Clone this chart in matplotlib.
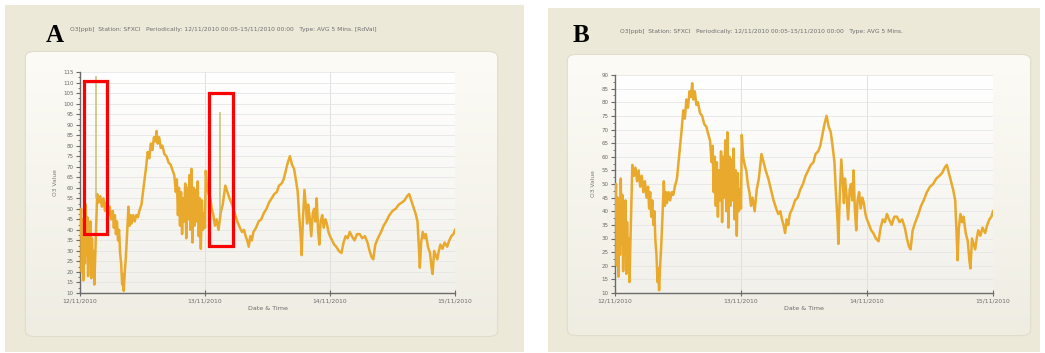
#!/usr/bin/env python3
import numpy as np
import matplotlib.pyplot as plt
import matplotlib as mpl
from matplotlib.patches import Rectangle, FancyBboxPatch
from matplotlib.ticker import MultipleLocator

W = 1045
H = 353

# O3 values, hours after 12/11/2010 00:00
hours = [0.0, 0.2, 0.35, 0.5, 0.65, 0.8, 0.95, 1.1, 1.25, 1.4, 1.55, 1.7, 1.85, 2.0,
         2.15, 2.3, 2.45, 2.6, 2.75, 3.3, 3.6, 3.9, 4.2, 4.5, 4.8, 5.1, 5.4, 5.7, 6.0,
         6.3, 6.5, 6.7, 6.9, 7.1, 7.3, 7.5, 7.7, 7.9, 8.1, 8.25, 8.4, 8.6, 8.8, 9.0,
         9.3, 9.5, 9.7, 9.9, 10.2, 10.5, 10.8, 11.1, 11.4, 11.8, 12.1, 12.4, 12.7,
         13.0, 13.3, 13.6, 13.9, 14.2, 14.5, 14.7, 14.9, 15.2, 15.5, 15.8, 16.2, 16.6,
         17.0, 17.4, 17.8, 18.1, 18.4, 18.6, 18.8, 19.0, 19.2, 19.4, 19.6, 19.8, 20.0,
         20.2, 20.4, 20.6, 20.8, 21.0, 21.2, 21.4, 21.6, 21.8, 22.0, 22.2, 22.4, 22.6,
         22.8, 23.0, 23.2, 23.4, 23.6, 23.8, 24.0, 24.15, 24.4, 24.7, 25.0, 25.3, 25.6,
         25.9, 26.2, 26.6, 27.0, 27.4, 27.9, 28.3, 28.7, 29.2, 29.7, 30.2, 30.7, 31.1,
         31.5, 31.8, 32.1, 32.4, 32.7, 33.0, 33.3, 33.8, 34.3, 34.8, 35.3, 35.8, 36.3,
         36.8, 37.3, 37.8, 38.2, 38.7, 39.1, 39.5, 39.9, 40.3, 40.7, 41.1, 41.5, 41.8,
         42.1, 42.4, 42.55, 42.8, 43.1, 43.4, 43.6, 43.8, 44.1, 44.4, 44.7, 44.95, 45.2,
         45.45, 45.7, 45.95, 46.2, 46.5, 46.8, 47.1, 47.4, 47.7, 48.0, 48.4, 48.8, 49.2,
         49.7, 50.2, 50.6, 51.0, 51.4, 51.8, 52.2, 52.7, 53.2, 53.7, 54.2, 54.7, 55.2,
         55.6, 56.0, 56.3, 56.7, 57.2, 57.8, 58.3, 58.8, 59.4, 60.0, 60.6, 61.2, 61.8,
         62.3, 62.8, 63.2, 63.6, 64.0, 64.4, 64.8, 65.1, 65.25, 65.5, 65.8, 66.1, 66.4,
         66.8, 67.2, 67.5, 67.7, 68.0, 68.3, 68.6, 68.9, 69.2, 69.6, 70.0, 70.5, 70.9,
         71.3, 71.7, 72.0]
o3 = [38, 50, 20, 45, 16, 42, 24, 52, 28, 46, 18, 40, 26, 44,
      17, 36, 22, 30, 14, 57, 53, 56, 51, 55, 49, 53, 47, 51, 45,
      49, 41, 47, 38, 44, 35, 40, 29, 24, 14, 19, 11, 20, 27, 36,
      51, 42, 47, 43, 47, 44, 47, 46, 49, 52, 58, 64, 70,
      77, 74, 81, 78, 84, 82, 87, 81, 84, 79, 80, 76, 75,
      72, 71, 68, 66, 58, 64, 47, 60, 42, 58, 38, 55, 44,
      62, 36, 60, 45, 66, 40, 69, 34, 60, 42, 59, 44, 63,
      37, 55, 31, 54, 40, 48, 41, 68, 60, 57, 55, 50, 47,
      42, 45, 40, 48, 52, 61, 58, 55, 52, 48, 44, 41, 39,
      40, 37, 35, 32, 37, 35, 39, 41, 44, 45, 48, 50, 53,
      55, 57, 58, 61, 62, 64, 68, 72, 75, 71, 69, 63, 58,
      46, 36, 28, 45, 59, 50, 43, 52, 46, 37, 48, 50, 44,
      55, 40, 33, 44, 47, 41, 45, 43, 39, 37, 35, 33, 32,
      30, 29, 34, 37, 36, 39, 37, 35, 38, 38, 36, 37, 34,
      30, 27, 26, 33, 36, 39, 42, 44, 47, 49, 50, 52, 53,
      54, 56, 57, 54, 51, 48, 44, 30, 22, 34, 39, 36, 38,
      32, 29, 22, 19, 30, 28, 26, 30, 33, 31, 34, 32, 35,
      37, 38, 40]

# raw-data spikes only present in panel A
spike_hours = [3.05, 26.9]
spike_base = [55, 47]
spike_top = [113, 96]

date_ticks = [0, 24, 48, 72]
date_labels = ['12/11/2010', '13/11/2010', '14/11/2010', '15/11/2010']

title_a = 'O3[ppb]  Station: SFXCI   Periodically: 12/11/2010 00:05-15/11/2010 00:00   Type: AVG 5 Mins. [RdVal]'
title_b = 'O3[ppb]  Station: SFXCI   Periodically: 12/11/2010 00:05-15/11/2010 00:00   Type: AVG 5 Mins.'


def frect(x0, y0, x1, y1):
    # pixel box (origin top-left) -> figure rect
    return [x0 / W, 1 - y1 / H, (x1 - x0) / W, (y1 - y0) / H]


def gradient(top, bottom):
    c0 = np.array(mpl.colors.to_rgb(top))
    c1 = np.array(mpl.colors.to_rgb(bottom))
    t = np.linspace(0, 1, 128)[:, None, None]
    return c0 + (c1 - c0) * t


fig = plt.figure(figsize=(W / 100, H / 100), dpi=100)
fig.patch.set_facecolor('white')


def panel(outer, inner, box, ymax, letter, lpos, title, tpos, raw):
    # beige window
    fig.patches.append(Rectangle((outer[0] / W, 1 - outer[3] / H),
                                 (outer[2] - outer[0]) / W, (outer[3] - outer[1]) / H,
                                 transform=fig.transFigure, fc='#ECE9D9', ec='none', zorder=0))
    # inner rounded panel with gradient
    bg = fig.add_axes(frect(*inner), zorder=1)
    bg.set_axis_off()
    im = bg.imshow(gradient('#FCFBF6', '#EFEDE2'), aspect='auto', extent=(0, 1, 0, 1))
    clip = FancyBboxPatch((0.005, 0.005), 0.99, 0.99, boxstyle='round,pad=0,rounding_size=0.02',
                          transform=bg.transAxes, fc='none', ec='#E0DDCC', lw=0.8)
    bg.add_patch(clip)
    im.set_clip_path(clip)
    bg.set_xlim(0, 1)
    bg.set_ylim(0, 1)

    fig.text(lpos[0] / W, 1 - lpos[1] / H, letter, fontsize=18, fontweight='bold',
             family='Liberation Serif', ha='left', va='baseline', zorder=5)
    fig.text(tpos[0] / W, 1 - tpos[1] / H, title, fontsize=4.3, color='#6E6E6E',
             ha='left', va='center', zorder=5)

    ax = fig.add_axes(frect(*box), zorder=2)
    ax.set_facecolor('none')
    ax.imshow(gradient('#FFFFFF', '#F1F0EA'), aspect='auto', extent=(0, 1, 0, 1),
              transform=ax.transAxes, zorder=0)
    ax.set_xlim(0, 72)
    ax.set_ylim(10, ymax)
    ax.yaxis.set_major_locator(MultipleLocator(5))
    ax.yaxis.set_minor_locator(MultipleLocator(2.5))
    ax.set_xticks(date_ticks)
    ax.set_xticklabels(date_labels)
    ax.grid(axis='y', color='#E6E6E6', lw=0.6)
    ax.grid(axis='x', color='#DCDCDC', lw=0.6)
    ax.set_axisbelow(True)
    for s in ['top', 'right']:
        ax.spines[s].set_visible(False)
    for s in ['left', 'bottom']:
        ax.spines[s].set_color('#6A6A6A')
        ax.spines[s].set_linewidth(1.0)
    ax.tick_params(axis='y', which='major', labelsize=4, colors='#6A6A6A', length=3, pad=1.5)
    ax.tick_params(axis='y', which='minor', colors='#6A6A6A', length=1.8)
    ax.tick_params(axis='x', labelsize=4.3, colors='#6A6A6A', length=4, direction='inout', pad=2)
    ax.set_ylabel('O3 Value', fontsize=4.3, color='#7A7A7A', labelpad=4)
    ax.set_xlabel('Date & Time', fontsize=4.6, color='#6A6A6A', labelpad=2)

    ax.plot(hours, o3, color='#E9A92C', lw=1.8, solid_joinstyle='round', zorder=3)
    if raw:
        ax.vlines(spike_hours, spike_base, spike_top, color='#C9BE72', lw=1.1, zorder=3)
    return ax


ax_a = panel((5, 5, 524, 352), (23, 50, 500, 338), (80, 72, 455, 293), 115,
             'A', (46, 42), title_a, (70, 30), True)
ax_b = panel((548, 8, 1040, 352), (565, 53, 1033, 337), (615, 75, 993, 293), 90,
             'B', (573, 42), title_b, (620, 32), False)

# red highlight boxes around the spikes
ax_a.add_patch(Rectangle((0.77, 38), 4.4, 72.7, fill=False, ec='#FF0000', lw=2.3,
                         clip_on=False, zorder=4))
ax_a.add_patch(Rectangle((24.8, 32.3), 4.6, 72.7, fill=False, ec='#FF0000', lw=2.3,
                         clip_on=False, zorder=4))

plt.savefig('out.png', dpi=100)
